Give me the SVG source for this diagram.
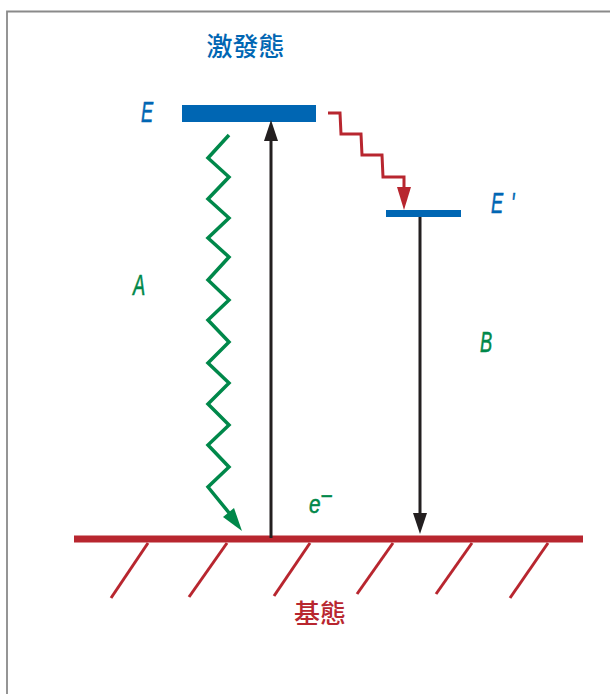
<svg xmlns="http://www.w3.org/2000/svg" width="610" height="694" viewBox="0 0 610 694">
<style>
.lbl{font-family:"Liberation Sans",Arial,sans-serif;font-style:italic;font-size:29px;stroke-width:0.6px}
.cjk{font-family:"Noto Sans CJK TC","Noto Sans CJK SC",sans-serif;font-size:26px;font-weight:500;text-anchor:middle}
.blue{fill:#0066b3;stroke:#0066b3}
.green{fill:#00884a;stroke:#00884a}
.red{fill:#b8262f}
.cjk.blue{stroke:none}
</style>
<defs>
<marker id="ah" viewBox="0 0 21 14" refX="0" refY="7" markerWidth="21" markerHeight="14" markerUnits="userSpaceOnUse" orient="auto">
<path d="M0,0 L21,7 L0,14 Z" fill="#231f20"/>
</marker>
</defs>
<rect width="610" height="694" fill="#fff"/>
<path d="M7,694 V11.5 H610" fill="none" stroke="#8a8a8a" stroke-width="1.8"/>

<g id="excited-label"><text class="cjk blue" x="245.5" y="56">激發態</text></g>
<g id="ground-label"><text class="cjk red" x="320" y="623">基態</text></g>

<g id="level-E">
<rect x="182" y="105" width="134" height="17" fill="#0066b3"/>
<text class="lbl blue" transform="translate(141,122) scale(0.63,1)">E</text>
</g>
<g id="level-E2">
<rect x="386" y="210" width="75" height="7" fill="#0066b3"/>
<text class="lbl blue" transform="translate(491,213) scale(0.63,1)">E</text>
<text class="lbl blue" transform="translate(511,213) scale(0.63,1)">'</text>
</g>

<g id="ground">
<rect x="74" y="535.5" width="509" height="7" fill="#b8262f"/>
<g stroke="#b8262f" stroke-width="3" fill="none">
<line x1="148" y1="543" x2="111" y2="598"/>
<line x1="227" y1="543" x2="189" y2="597"/>
<line x1="310" y1="543" x2="274" y2="596"/>
<line x1="393" y1="543" x2="357" y2="594"/>
<line x1="472" y1="543" x2="436" y2="594"/>
<line x1="548" y1="543" x2="510" y2="598"/>
</g>
</g>

<g id="connectors">
<line x1="271" y1="538" x2="271" y2="141" stroke="#231f20" stroke-width="3" marker-end="url(#ah)"/>
<line x1="420" y1="217" x2="420" y2="513" stroke="#231f20" stroke-width="3" marker-end="url(#ah)"/>
<path d="M229,135 L208,158 L229,177 L208,199 L229,218 L208,238 L229,257 L208,280 L229,300 L208,320 L229,342 L208,363 L229,383 L208,404 L229,425 L208,445 L229,467 L208,487 L230,514" fill="none" stroke="#00884a" stroke-width="3.5" stroke-linejoin="miter"/>
<path d="M242,531 L223,517 L234,508 Z" fill="#00884a"/>
<path d="M328,113 L340,113 L341,134 L361,134 L362,155 L382,155 L383,177 L404,177 L404,190" fill="none" stroke="#b8262f" stroke-width="3"/>
<path d="M404,210 L397,187 L411,187 Z" fill="#b8262f"/>
</g>

<g id="labels">
<text class="lbl green" transform="translate(133,295) scale(0.63,1)">A</text>
<text class="lbl green" transform="translate(480,352) scale(0.63,1)">B</text>
<text class="lbl green" style="font-size:26px" transform="translate(309,513) scale(0.8,1)">e<tspan dy="-8">−</tspan></text>
</g>
</svg>
